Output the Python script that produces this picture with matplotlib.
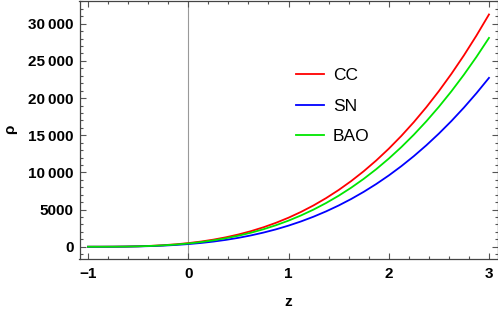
import matplotlib
matplotlib.use('Agg')
import matplotlib.pyplot as plt
from matplotlib.ticker import MultipleLocator, FuncFormatter

# values at steps of 0.125 in z
z = [-1.0, -0.875, -0.75, -0.625, -0.5, -0.375, -0.25, -0.125, 0.0,
     0.125, 0.25, 0.375, 0.5, 0.625, 0.75, 0.875, 1.0,
     1.125, 1.25, 1.375, 1.5, 1.625, 1.75, 1.875, 2.0,
     2.125, 2.25, 2.375, 2.5, 2.625, 2.75, 2.875, 3.0]
rho_cc = [0, 1, 8, 26, 61, 119, 206, 327, 488,
          695, 954, 1269, 1648, 2095, 2617, 3219, 3906,
          4686, 5562, 6542, 7630, 8833, 10155, 11604, 13184,
          14902, 16763, 18772, 20936, 23260, 25750, 28412, 31251]
rho_sn = [0, 1, 6, 19, 44, 87, 150, 238, 355,
          505, 693, 923, 1198, 1523, 1903, 2340, 2840,
          3406, 4044, 4756, 5547, 6421, 7383, 8436, 9585,
          10834, 12186, 13647, 15221, 16910, 18721, 20656, 22720]
rho_bao = [0, 1, 7, 23, 55, 107, 185, 294, 439,
           625, 857, 1141, 1482, 1884, 2353, 2894, 3512,
           4213, 5000, 5881, 6859, 7941, 9130, 10432, 11853,
           13397, 15070, 16877, 18822, 20912, 23150, 25543, 28096]

labels = ['CC', 'SN', 'BAO']
colors = ['#ff0000', '#0000ff', '#00e600']

plt.rcParams['font.family'] = ['Liberation Sans', 'DejaVu Sans']

fig = plt.figure(figsize=(4.98, 3.09), dpi=100)
ax = fig.add_axes([79.5 / 498, 50 / 309, 418 / 498, 258.5 / 309])

ax.axvline(0, color='#999999', lw=0.8, zorder=1)
for y, lab, c in zip([rho_cc, rho_sn, rho_bao], labels, colors):
    ax.plot(z, y, color=c, lw=1.3, label=lab, zorder=3)

ax.set_xlim(-1.085, 3.085)
ax.set_ylim(-1650, 33130)

ax.xaxis.set_major_locator(MultipleLocator(1))
ax.xaxis.set_minor_locator(MultipleLocator(0.2))
ax.yaxis.set_major_locator(MultipleLocator(5000))
ax.yaxis.set_minor_locator(MultipleLocator(1000))


def yfmt(v, pos):
    v = int(round(v))
    if abs(v) >= 10000:
        s = f'{v:,}'.replace(',', '\u2009')
    else:
        s = str(v)
    return s.replace('-', '\u2212')


ax.yaxis.set_major_formatter(FuncFormatter(yfmt))
ax.xaxis.set_major_formatter(FuncFormatter(lambda v, p: str(int(round(v))).replace('-', '\u2212')))

ax.tick_params(which='both', direction='in', top=True, right=True,
               color='#555555', width=0.8)
ax.tick_params(which='major', length=4.5, labelsize=11, pad=4)
ax.tick_params(axis='x', which='major', pad=6)
ax.tick_params(which='minor', length=2.5)
for t in ax.get_xticklabels() + ax.get_yticklabels():
    t.set_fontweight('bold')
for s in ax.spines.values():
    s.set_color('#444444')
    s.set_linewidth(0.9)

ax.set_xlabel('z', fontsize=11, fontweight='bold', labelpad=10)
ax.set_ylabel('ρ', fontsize=11, fontweight='bold', labelpad=8)

ax.legend(loc='upper left', bbox_to_anchor=(0.48, 0.798), frameon=False,
          fontsize=12.5, handlelength=1.6, handletextpad=0.55, labelspacing=0.87)

fig.savefig('out.png', dpi=100)
